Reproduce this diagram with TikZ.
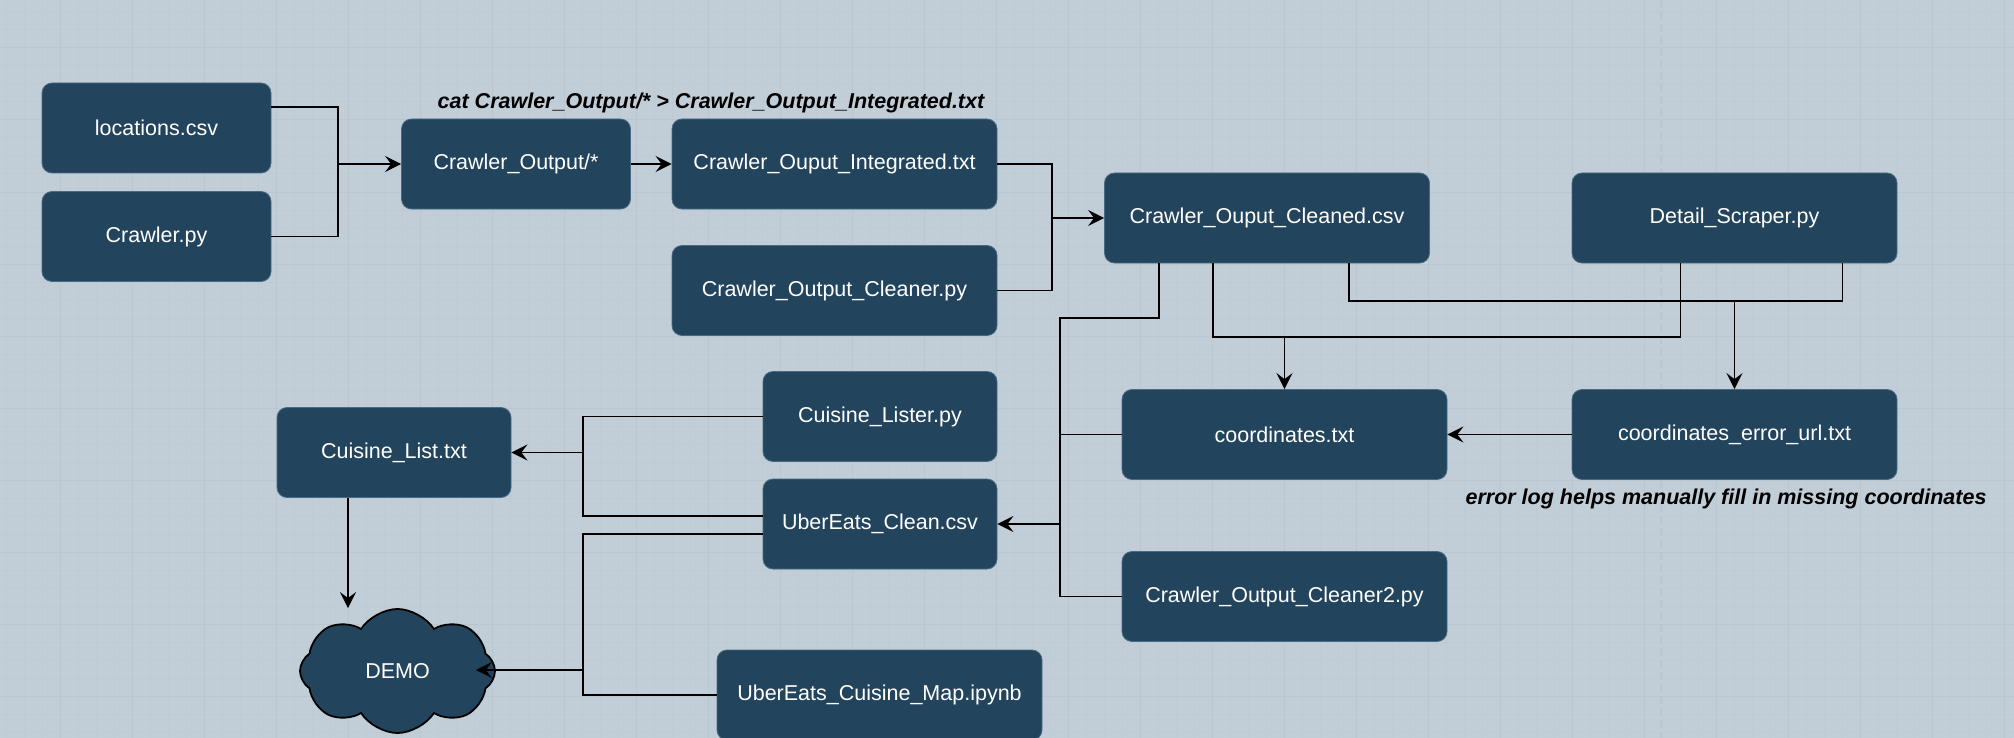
\documentclass[tikz,border=0pt]{standalone}
\usepackage{fontspec}
\setmainfont{Liberation Sans}
\usetikzlibrary{arrows.meta,shapes.symbols}

\definecolor{fondo}{HTML}{C1CED8}
\definecolor{rejilla}{HTML}{BECBD5}
\definecolor{rejillafuerte}{HTML}{BAC7D1}
\definecolor{caja}{HTML}{23445D}
\definecolor{bordecaja}{HTML}{4A6A82}

\begin{document}
\begin{tikzpicture}[x=0.5pt,y=-0.5pt,
        archivo/.style={rectangle, rounded corners=5pt, fill=caja, draw=bordecaja, line width=0.4pt,
                        text=white, minimum width=162.5pt, minimum height=45pt, inner sep=0pt,
                        font=\fontsize{10.75}{13}\selectfont},
        corto/.style={archivo, minimum width=114.5pt},
        medio/.style={archivo, minimum width=117pt},
        linea/.style={line width=0.95pt},
        flecha/.style={linea, -{Stealth[length=8pt,width=8pt,inset=3pt]}},
        nota/.style={font=\fontsize{10.75}{13}\selectfont\bfseries\itshape}]
        % Fondo con rejilla
        \fill[fondo] (0,0) rectangle (2014,738);
        \useasboundingbox (0,0) rectangle (2014,738);
        \foreach \gx in {6,24,...,2014} \draw[rejilla, line width=0.5pt] (\gx,0) -- (\gx,738);
        \foreach \gy in {12,30,...,738} \draw[rejilla, line width=0.5pt] (0,\gy) -- (2014,\gy);
        \foreach \gx in {60,132,...,2014} \draw[rejillafuerte, line width=0.5pt] (\gx,0) -- (\gx,738);
        \foreach \gy in {48,120,...,738} \draw[rejillafuerte, line width=0.5pt] (0,\gy) -- (2014,\gy);
        \draw[rejillafuerte, line width=1pt, dash pattern=on 4pt off 2pt] (1661,0) -- (1661,738);

        % Crawler
        \node[corto] (loc) at (156.5,128) {locations.csv};
        \node[corto] (crawler) at (156.5,236.5) {Crawler.py};
        \node[corto] (out) at (516,164) {Crawler\_Output/*};
        \node[archivo] (integ) at (834.5,164) {Crawler\_Ouput\_Integrated.txt};
        \node[archivo] (cleaner) at (834.5,290.5) {Crawler\_Output\_Cleaner.py};
        \node[archivo] (cleaned) at (1267,218) {Crawler\_Ouput\_Cleaned.csv};
        \node[archivo] (detail) at (1734.5,218) {Detail\_Scraper.py};

        % Coordenadas
        \node[archivo] (coords) at (1284.5,434.5) {coordinates.txt};
        \node[archivo] (errurl) at (1734.5,434.5) {coordinates\_error\_url.txt};
        \node[archivo] (cleaner2) at (1284.5,596.5) {Crawler\_Output\_Cleaner2.py};

        % UberEats
        \node[medio] (lister) at (880,416.5) {Cuisine\_Lister.py};
        \node[medio] (uber) at (880,524) {UberEats\_Clean.csv};
        \node[medio] (clist) at (394,452.5) {Cuisine\_List.txt};
        \node[archivo] (map) at (879.5,695) {UberEats\_Cuisine\_Map.ipynb};
        \node[cloud, cloud puffs=8, cloud puff arc=115, aspect=1.45, fill=caja, draw=black,
              line width=0.9pt, text=white, minimum width=97.5pt, minimum height=62pt,
              inner sep=0pt, font=\fontsize{10.75}{13}\selectfont] (demo) at (397.5,671) {DEMO};

        % Notas
        \node[nota] (catnote) at (711,103) {cat Crawler\_Output/* > Crawler\_Output\_Integrated.txt};
        \node[nota] (errnote) at (1726,499) {error log helps manually fill in missing coordinates};

        % Puntos de union
        \coordinate (j1) at (338,164);
        \coordinate (j2) at (1052,218);
        \coordinate (b3) at (1060,318);
        \coordinate (j3) at (1060,524);
        \coordinate (j4) at (1284.5,337);
        \coordinate (j5) at (1734.5,301);
        \coordinate (j6) at (583,452.5);
        \coordinate (j7) at (583,670);

        % Conexiones
        \draw[linea] ([yshift=10.5pt]loc.east) -| (j1);
        \draw[linea] (crawler.east) -| (j1);
        \draw[flecha] (j1) -- (out);
        \draw[flecha] (out) -- (integ);
        \draw[linea] (integ.east) -| (j2);
        \draw[linea] (cleaner.east) -| (j2);
        \draw[flecha] (j2) -- (cleaned);

        \draw[linea] ([xshift=-54pt]cleaned.south) |- (b3) -- (j3);
        \draw[linea] (coords.west) -| (j3);
        \draw[linea] (cleaner2.west) -| (j3);
        \draw[flecha] (j3) -- (uber.east);

        \draw[linea] ([xshift=-27pt]cleaned.south) |- (j4);
        \draw[linea] ([xshift=-27pt]detail.south) |- (j4);
        \draw[flecha] (j4) -- (coords.north);
        \draw[linea] ([xshift=41pt]cleaned.south) |- (j5);
        \draw[linea] ([xshift=54pt]detail.south) |- (j5);
        \draw[flecha] (j5) -- (errurl.north);
        \draw[flecha] (errurl) -- (coords);

        \draw[linea] (lister.west) -| (j6);
        \draw[linea] ([yshift=4pt]uber.west) -| (j6);
        \draw[flecha] (j6) -- (clist.east);
        \draw[linea] ([yshift=-5pt]uber.west) -| (j7);
        \draw[linea] (map.west) -| (j7);
        \draw[flecha] (j7) -- ([xshift=-10pt]demo.east |- j7);
        \draw[flecha] ([xshift=-23pt]clist.south) -- ([xshift=-23pt]clist.south |- demo.north);
    \end{tikzpicture}
\end{document}
